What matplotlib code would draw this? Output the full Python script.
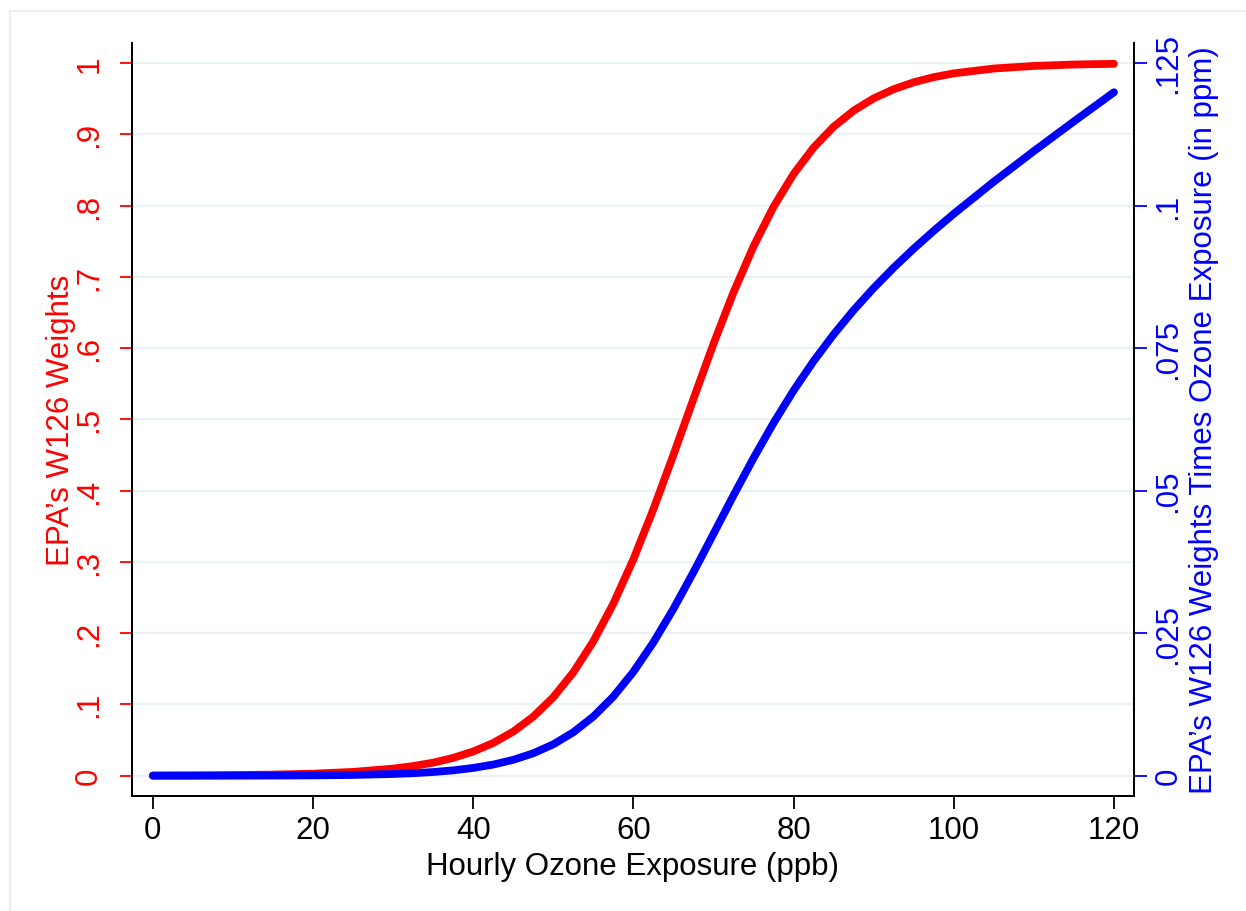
import matplotlib.pyplot as plt
from matplotlib.lines import Line2D

plt.rcParams["font.family"] = ["Liberation Sans", "DejaVu Sans"]

# hourly ozone (ppb) and values
ozone = [0, 5, 10, 15, 20, 25, 30, 32.5, 35, 37.5, 40, 42.5, 45, 47.5,
         50, 52.5, 55, 57.5, 60, 62.5, 65, 67.5, 70, 72.5, 75, 77.5,
         80, 82.5, 85, 87.5, 90, 92.5, 95, 97.5, 100, 105, 110, 115, 120]
weights = [0.0002, 0.0004, 0.0008, 0.0015, 0.0028, 0.0053, 0.0099, 0.0135,
           0.0183, 0.0250, 0.0339, 0.0459, 0.0618, 0.0828, 0.1101, 0.1449,
           0.1885, 0.2414, 0.3036, 0.3740, 0.4502, 0.5287, 0.6059, 0.6781,
           0.7427, 0.7982, 0.8442, 0.8813, 0.9105, 0.9331, 0.9503, 0.9632,
           0.9729, 0.9801, 0.9854, 0.9922, 0.9958, 0.9978, 0.9988]
weighted = [0.0, 0.000002, 0.000008, 0.0000225, 0.000056, 0.00013, 0.0003,
            0.000437, 0.00064, 0.000936, 0.00136, 0.00195, 0.00278, 0.00393,
            0.0055, 0.00761, 0.01037, 0.01388, 0.01822, 0.02338, 0.02926,
            0.03569, 0.04241, 0.04916, 0.0557, 0.06186, 0.06754, 0.07271,
            0.07739, 0.08165, 0.08552, 0.0891, 0.09243, 0.09556, 0.09854,
            0.10418, 0.10954, 0.11475, 0.11986]

left_ticks = [0, .1, .2, .3, .4, .5, .6, .7, .8, .9, 1]
left_labels = ["0", ".1", ".2", ".3", ".4", ".5", ".6", ".7", ".8", ".9", "1"]
right_ticks = [0, .025, .05, .075, .1, .125]
right_labels = ["0", ".025", ".05", ".075", ".1", ".125"]
x_ticks = [0, 20, 40, 60, 80, 100, 120]

W, H = 1246, 912
fig = plt.figure(figsize=(W / 100, H / 100), dpi=100)
fig.patch.set_facecolor("white")

# faint outer frame (only top and left edges show)
frame_col = "#eaf0f2"
fig.add_artist(Line2D([10 / W, 10 / W], [0, 1 - 12 / H], color=frame_col, lw=1.5))
fig.add_artist(Line2D([10 / W, 1], [1 - 12 / H, 1 - 12 / H], color=frame_col, lw=1.5))

ax = fig.add_axes([132 / W, (H - 797) / H, 1002 / W, 753 / H])
ax2 = ax.twinx()

ylo, yhi = -0.0285, 1.028
ax.set_xlim(-2.6, 122.5)
ax.set_ylim(ylo, yhi)
ax2.set_ylim(ylo * 0.125, yhi * 0.125)

for y in left_ticks:
    ax.axhline(y, color="#eaf2f3", lw=1.6, zorder=0)

ax.plot(ozone, weights, color="#ff0000", lw=5.6, solid_capstyle="round",
        solid_joinstyle="round", zorder=3)
ax2.plot(ozone, weighted, color="#0000ff", lw=5.6, solid_capstyle="round",
         solid_joinstyle="round", zorder=3)

ax.spines["top"].set_visible(False)
ax2.spines["top"].set_visible(False)
for a in (ax, ax2):
    for s in a.spines.values():
        s.set_linewidth(1.4)

fs = 22.5
ax.set_xticks(x_ticks)
ax.set_xticklabels([str(t) for t in x_ticks])
ax.tick_params(axis="x", length=9, width=1.3, pad=5, labelsize=fs, colors="black")

ax.set_yticks(left_ticks)
ax.set_yticklabels(left_labels, rotation=90, va="center")
ax.tick_params(axis="y", length=9, width=1.3, pad=11, labelsize=fs,
               colors="#ff0000")

ax2.set_yticks(right_ticks)
ax2.set_yticklabels(right_labels, rotation=90, va="center")
ax2.tick_params(axis="y", length=9, width=1.3, pad=5, labelsize=fs,
                colors="#0000ff")

ax.set_xlabel("Hourly Ozone Exposure (ppb)", fontsize=fs, labelpad=4)
ax.set_ylabel("EPA\u2019s W126 Weights", fontsize=fs, color="#ff0000", labelpad=-1)
ax2.set_ylabel("EPA\u2019s W126 Weights Times Ozone Exposure (in ppm)", fontsize=fs,
               color="#0000ff", rotation=90, labelpad=4)

fig.savefig("out.png", dpi=100, facecolor="white")
